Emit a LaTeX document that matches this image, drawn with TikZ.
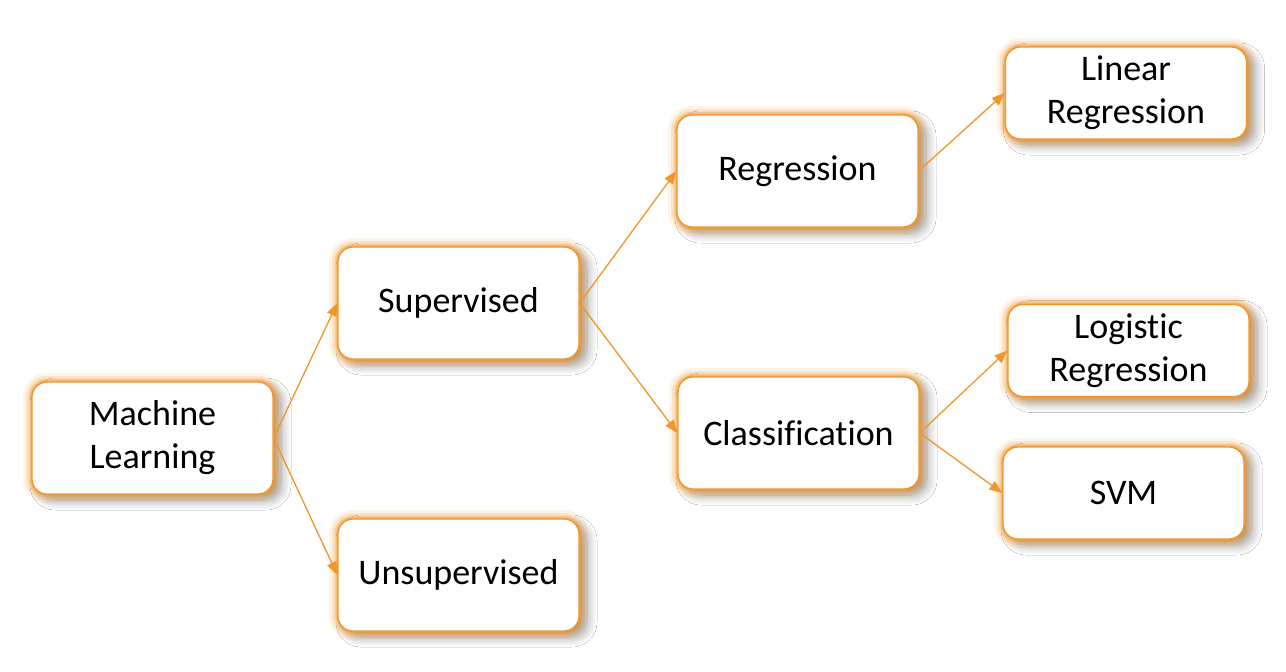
\documentclass[tikz,border=0pt]{standalone}
\usepackage{fontspec}
\setmainfont{Carlito}[Ligatures=NoCommon]
\usetikzlibrary{arrows.meta,shadows.blur}
\definecolor{org}{HTML}{F0962A}
\tikzset{
  box/.style={draw=org, line width=1.3pt, rounded corners=15pt, fill=white,
    minimum width=241pt, minimum height=112pt, align=center,
    font=\fontsize{36}{43}\selectfont, inner sep=0pt,
    blur shadow={shadow xshift=8pt, shadow yshift=-6pt, shadow blur steps=14, shadow opacity=40, shadow blur radius=10pt},
    preaction={draw=org, line width=18pt, draw opacity=0.10},
    preaction={draw=org, line width=12pt, draw opacity=0.18},
    preaction={draw=org, line width=7pt, draw opacity=0.28},
    preaction={draw=org, line width=3.5pt, draw opacity=0.4}},
  small/.style={minimum height=92pt},
  conn/.style={draw=org, line width=1.3pt, -{Triangle[length=13pt,width=10pt]}}
}
\begin{document}
\begin{tikzpicture}[x=1pt,y=1pt]
\useasboundingbox[fill=white] (0,0) rectangle (1286,-672);
\node[box] (ml) at (152.5,-438) {Machine\\Learning};
\node[box] (sup) at (458.5,-303) {Supervised};
\node[box] (uns) at (458.5,-575) {Unsupervised};
\node[box] (reg) at (797.5,-171) {Regression};
\node[box] (cla) at (798.5,-433) {Classification};
\node[box,small] (lin) at (1126,-93) {Linear\\Regression};
\node[box,small] (log) at (1128.5,-350.5) {Logistic\\Regression};
\node[box,small] (svm) at (1123.5,-493) {SVM};
\draw[conn] (ml.east) -- (sup.west);
\draw[conn] (ml.east) -- (uns.west);
\draw[conn] (sup.east) -- (reg.west);
\draw[conn] (sup.east) -- (cla.west);
\draw[conn] (reg.east) -- (lin.west);
\draw[conn] (cla.east) -- (log.west);
\draw[conn] (cla.east) -- (svm.west);
\end{tikzpicture}
\end{document}
